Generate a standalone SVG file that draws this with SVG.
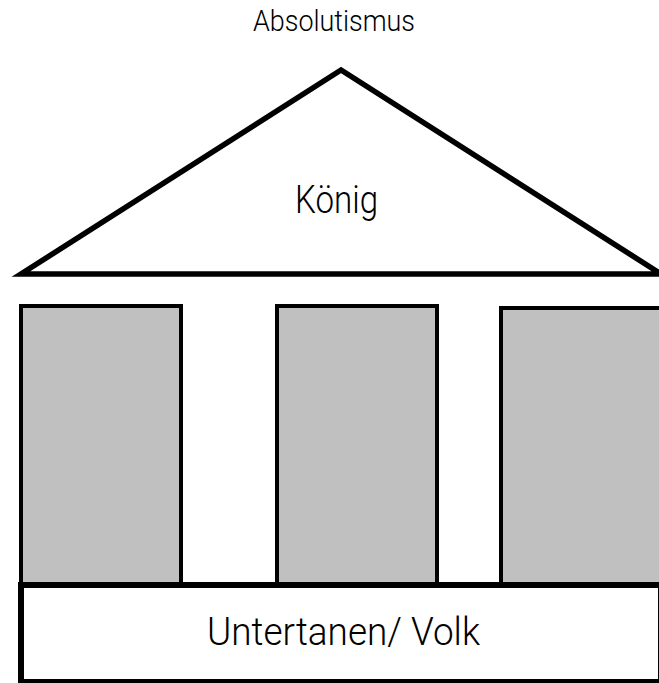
<svg xmlns="http://www.w3.org/2000/svg" width="659" height="683" viewBox="0 0 659 683">
<style>
.pillar{fill:#c0c0c0;stroke:#000;stroke-width:4}
.lbl{font-family:Roboto,"Liberation Sans",sans-serif;font-weight:300;fill:#000}
</style>
<rect width="659" height="683" fill="#fff"/>
<g id="title"><text class="lbl" x="253" y="31" font-size="29" textLength="162" lengthAdjust="spacingAndGlyphs">Absolutismus</text></g>
<g id="roof">
<polygon points="341,70 21,274 661,274" fill="#fff" stroke="#000" stroke-width="5.5" stroke-linejoin="miter"/>
<text class="lbl" x="295" y="213" font-size="39" textLength="83" lengthAdjust="spacingAndGlyphs">König</text>
</g>
<g id="pillar1"><rect class="pillar" x="21" y="306" width="160" height="279"/></g>
<g id="pillar2"><rect class="pillar" x="277" y="306" width="160" height="279"/></g>
<g id="pillar3"><rect class="pillar" x="501" y="308" width="160" height="277"/></g>
<g id="base">
<rect x="21" y="585" width="640" height="97" fill="#fff" stroke="#000" stroke-width="6"/>
<text class="lbl" x="207" y="645" font-size="39" textLength="273" lengthAdjust="spacingAndGlyphs">Untertanen/ Volk</text>
</g>
<g id="connectors"></g>
</svg>
